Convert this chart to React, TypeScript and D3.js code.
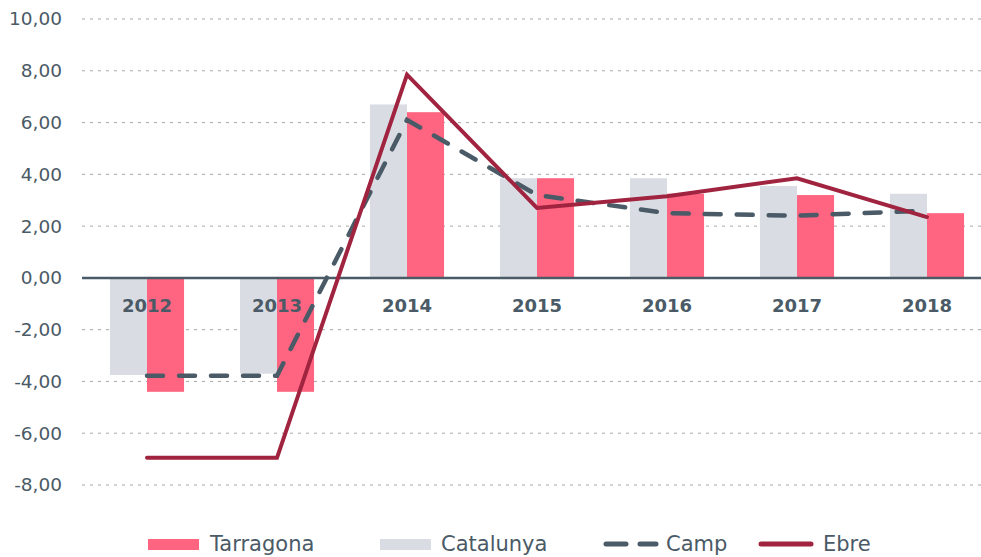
import React, { useEffect, useRef } from "react";
import * as d3 from "d3";

const years = ["2012", "2013", "2014", "2015", "2016", "2017", "2018"];
const tarragona = [-4.4, -4.4, 6.4, 3.85, 3.25, 3.2, 2.5];
const catalunya = [-3.75, -3.7, 6.7, 3.85, 3.85, 3.55, 3.25];
const camp = [-3.78, -3.78, 6.1, 3.2, 2.5, 2.4, 2.6];
const ebre = [-6.95, -6.95, 7.85, 2.7, 3.15, 3.85, 2.35];
const yTicks = [-8, -6, -4, -2, 0, 2, 4, 6, 8, 10];

const W = 981;
const H = 557;
const TEXT = "#4a5a66";
const PINK = "#ff6480";
const GREY = "#d9dde3";
const WINE = "#a0243f";
const FONT = "'DejaVu Sans', sans-serif";

const App = () => {
  const ref = useRef<SVGSVGElement>(null);

  useEffect(() => {
    const svg = d3.select(ref.current);
    svg.selectAll("*").remove();

    // plot runs a little past the right edge, like the original
    const x = d3.scaleBand().domain(years).range([82, 992]).paddingInner(0.43).paddingOuter(0.215);
    const y = d3.scaleLinear().domain([-8, 10]).range([485, 19]);
    const bw = x.bandwidth() / 2;
    const cx = (d: string) => (x(d) as number) + x.bandwidth() / 2;

    // dotted grid
    svg
      .append("g")
      .selectAll("line")
      .data(yTicks.filter((t) => t !== 0))
      .join("line")
      .attr("x1", 82)
      .attr("x2", W)
      .attr("y1", (d) => y(d))
      .attr("y2", (d) => y(d))
      .attr("stroke", "#a8a8a8")
      .attr("stroke-width", 1)
      .attr("stroke-dasharray", "3,5");

    // y labels
    svg
      .append("g")
      .selectAll("text")
      .data(yTicks)
      .join("text")
      .attr("x", 62)
      .attr("y", (d) => y(d))
      .attr("dy", "0.35em")
      .attr("text-anchor", "end")
      .attr("font-family", FONT)
      .attr("font-size", 18.5)
      .attr("fill", TEXT)
      .text((d) => d3.format(".2f")(d).replace(".", ",").replace("−", "-"));

    // bars
    const bars = svg.append("g");
    bars
      .selectAll(".cat")
      .data(catalunya)
      .join("rect")
      .attr("x", (_, i) => x(years[i]) as number)
      .attr("y", (d) => y(Math.max(0, d)))
      .attr("width", bw)
      .attr("height", (d) => Math.abs(y(d) - y(0)))
      .attr("fill", GREY);
    bars
      .selectAll(".tar")
      .data(tarragona)
      .join("rect")
      .attr("x", (_, i) => (x(years[i]) as number) + bw)
      .attr("y", (d) => y(Math.max(0, d)))
      .attr("width", bw)
      .attr("height", (d) => Math.abs(y(d) - y(0)))
      .attr("fill", PINK);

    // zero axis
    svg
      .append("line")
      .attr("x1", 82)
      .attr("x2", W)
      .attr("y1", y(0))
      .attr("y2", y(0))
      .attr("stroke", TEXT)
      .attr("stroke-width", 2.5);

    // category labels just under zero line
    svg
      .append("g")
      .selectAll("text")
      .data(years)
      .join("text")
      .attr("x", (d) => cx(d))
      .attr("y", y(0) + 34)
      .attr("text-anchor", "middle")
      .attr("font-family", FONT)
      .attr("font-size", 18)
      .attr("font-weight", "bold")
      .attr("fill", TEXT)
      .text((d) => d);

    const line = d3
      .line<number>()
      .x((_, i) => cx(years[i]))
      .y((d) => y(d));

    svg
      .append("path")
      .attr("d", line(camp))
      .attr("fill", "none")
      .attr("stroke", TEXT)
      .attr("stroke-width", 4.5)
      .attr("stroke-linecap", "round")
      .attr("stroke-dasharray", "16,16");

    svg
      .append("path")
      .attr("d", line(ebre))
      .attr("fill", "none")
      .attr("stroke", WINE)
      .attr("stroke-width", 4)
      .attr("stroke-linecap", "round");

    // legend
    const lg = svg.append("g").attr("font-family", FONT).attr("font-size", 21).attr("fill", TEXT);
    const ly = 544;
    lg.append("rect").attr("x", 148).attr("y", ly - 5).attr("width", 51).attr("height", 11).attr("fill", PINK);
    lg.append("text").attr("x", 210).attr("y", ly).attr("dy", "0.35em").text("Tarragona");
    lg.append("rect").attr("x", 380).attr("y", ly - 5).attr("width", 51).attr("height", 11).attr("fill", GREY);
    lg.append("text").attr("x", 441).attr("y", ly).attr("dy", "0.35em").text("Catalunya");
    lg.append("line")
      .attr("x1", 606).attr("x2", 656).attr("y1", ly).attr("y2", ly)
      .attr("stroke", TEXT).attr("stroke-width", 5).attr("stroke-linecap", "round")
      .attr("stroke-dasharray", "20,14");
    lg.append("text").attr("x", 666).attr("y", ly).attr("dy", "0.35em").text("Camp");
    lg.append("line")
      .attr("x1", 761).attr("x2", 811).attr("y1", ly).attr("y2", ly)
      .attr("stroke", WINE).attr("stroke-width", 5).attr("stroke-linecap", "round");
    lg.append("text").attr("x", 823).attr("y", ly).attr("dy", "0.35em").text("Ebre");
  }, []);

  return (
    <svg
      ref={ref}
      width={W}
      height={H}
      style={{ position: "absolute", left: 0, top: 0, background: "#fff" }}
    />
  );
};

export default App;
